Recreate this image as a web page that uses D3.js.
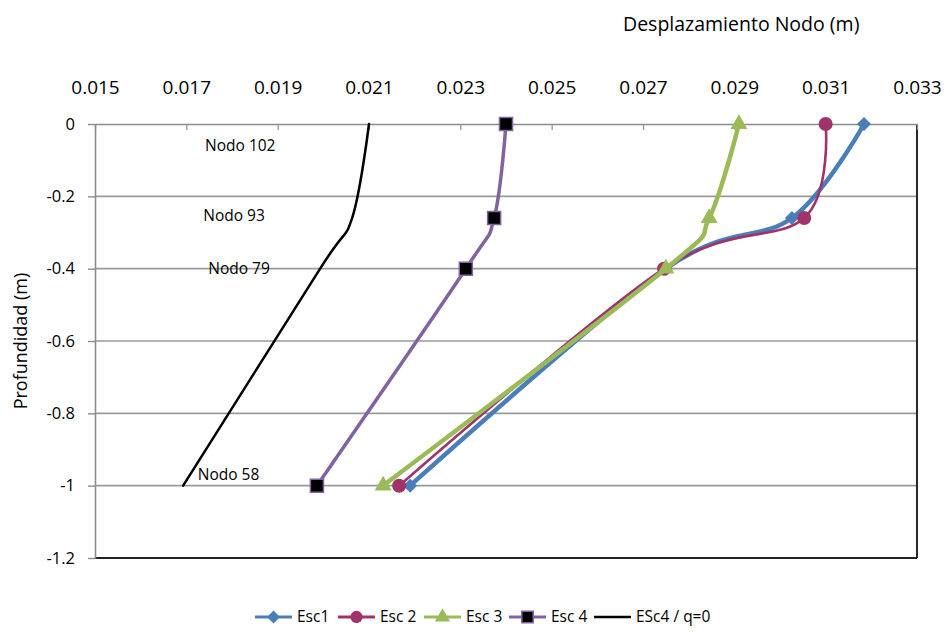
<!DOCTYPE html>
<html>
<head>
<meta charset="utf-8">
<script src="https://cdn.jsdelivr.net/npm/d3@7"></script>
<style>
  html, body { margin: 0; padding: 0; background: #fff; }
  svg { display: block; font-family: "Open Sans", sans-serif; }
</style>
</head>
<body>
<svg id="chart" width="947" height="632"></svg>
<script>
// ---- Data ----
const depths = [0, -0.26, -0.4, -1];
const esc1 = [0.03184, 0.03026, 0.02750, 0.02190];
const esc2 = [0.03100, 0.03053, 0.02746, 0.02166];
const esc3 = [0.02910, 0.02845, 0.02750, 0.02131];
const esc4 = [0.02400, 0.02374, 0.02312, 0.01986];
const esc4q0 = [0.02100, 0.02063, 0.01993, 0.01693];
const seriesNames = ["Esc1", "Esc 2", "Esc 3", "Esc 4", "ESc4 / q=0"];
const xTicks = [0.015, 0.017, 0.019, 0.021, 0.023, 0.025, 0.027, 0.029, 0.031, 0.033];
const yTicks = [0, -0.2, -0.4, -0.6, -0.8, -1, -1.2];
const nodeLabels = ["Nodo 102", "Nodo 93", "Nodo 79", "Nodo 58"];
const nodeLabelX = [0.01741, 0.01737, 0.01748, 0.01725];
const nodeLabelY = [-0.061, -0.252, -0.399, -0.970];
const xTitle = "Desplazamiento Nodo (m)";
const yTitle = "Profundidad (m)";

// ---- Styles ----
const styles = [
  { color: "#4A7EBB", width: 4.5, marker: "diamond" },
  { color: "#A0346A", width: 2.6, marker: "circle" },
  { color: "#9BBB59", width: 4.5, marker: "triangle" },
  { color: "#8064A2", width: 3.5, marker: "square" },
  { color: "#000000", width: 2.5, marker: "none" }
];
const allSeries = [esc1, esc2, esc3, esc4, esc4q0];

const svg = d3.select("#chart");
const x = d3.scaleLinear().domain([0.015, 0.033]).range([95, 917]);
const y = d3.scaleLinear().domain([-1.2, 0]).range([558, 124]);

// gridlines
svg.append("g").selectAll("line")
  .data(yTicks.filter(v => v !== 0 && v !== -1.2))
  .join("line")
  .attr("x1", x(0.015)).attr("x2", x(0.033))
  .attr("y1", d => y(d)).attr("y2", d => y(d))
  .attr("stroke", "#9a9a9a").attr("stroke-width", 1.6);

// plot border right & bottom
svg.append("line").attr("x1", x(0.033)).attr("x2", x(0.033))
  .attr("y1", y(0)).attr("y2", y(-1.2)).attr("stroke", "#111").attr("stroke-width", 1.8);
svg.append("line").attr("x1", x(0.015)).attr("x2", x(0.033))
  .attr("y1", y(-1.2)).attr("y2", y(-1.2)).attr("stroke", "#222").attr("stroke-width", 1.8);

// top axis
const xAxis = d3.axisTop(x).tickValues(xTicks).tickFormat(d3.format(".3f"))
  .tickSizeInner(-6).tickSizeOuter(0).tickPadding(30);
const gx = svg.append("g").attr("transform", `translate(0,${y(0)})`).call(xAxis);
gx.select(".domain").attr("stroke", "#8c8c8c").attr("stroke-width", 1.6);
gx.selectAll(".tick line").attr("stroke", "#8c8c8c").attr("stroke-width", 1.2);
gx.selectAll("text").attr("font-size", 19).attr("fill", "#000").attr("font-family", "Open Sans");

// left axis
const yAxis = d3.axisLeft(y).tickValues(yTicks).tickFormat(d => d === 0 ? "0" : String(+d.toFixed(1)))
  .tickSizeInner(7).tickSizeOuter(0).tickPadding(13);
const gy = svg.append("g").attr("transform", `translate(${x(0.015)},0)`).call(yAxis);
gy.select(".domain").attr("stroke", "#8c8c8c").attr("stroke-width", 1.6);
gy.selectAll(".tick line").attr("stroke", "#8c8c8c").attr("stroke-width", 1.4);
gy.selectAll("text").attr("font-size", 16.5).attr("fill", "#000").attr("font-family", "Open Sans");

// titles
svg.append("text").attr("x", 623).attr("y", 31).attr("font-size", 19.5)
  .attr("fill", "#000").text(xTitle);
svg.append("text").attr("transform", `translate(27,${(y(0)+y(-1.2))/2}) rotate(-90)`)
  .attr("text-anchor", "middle").attr("font-size", 18).attr("fill", "#000").text(yTitle);

// lines
const line = d3.line()
  .x(d => x(d[0])).y(d => y(d[1]))
  .curve(d3.curveCardinal.tension(0));

function markerPath(type, s) {
  if (type === "diamond") return `M0,${-s}L${s},0L0,${s}L${-s},0Z`;
  if (type === "circle") return d3.symbol().type(d3.symbolCircle).size(s)();
  if (type === "triangle") return d3.symbol().type(d3.symbolTriangle).size(s)();
  if (type === "square") return d3.symbol().type(d3.symbolSquare).size(s)();
  return "";
}
const plotSizes = { diamond: 7, circle: 155, triangle: 125, square: 170 };
const legendSizes = { diamond: 6.5, circle: 120, triangle: 100, square: 130 };

function drawMarker(g, type, cx, cy, st, sizes) {
  if (type === "none") return;
  const p = g.append("path").attr("d", markerPath(type, sizes[type]))
    .attr("transform", `translate(${cx},${cy})`);
  if (type === "square") {
    p.attr("fill", "#000").attr("stroke", st.color).attr("stroke-width", 1.5);
  } else {
    p.attr("fill", st.color).attr("stroke", "none");
  }
}

allSeries.forEach((vals, i) => {
  const st = styles[i];
  const pts = vals.map((v, j) => [v, depths[j]]);
  const g = svg.append("g");
  g.append("path").attr("d", line(pts)).attr("fill", "none")
    .attr("stroke", st.color).attr("stroke-width", st.width)
    .attr("stroke-linejoin", "round").attr("stroke-linecap", "round");
  pts.forEach(p => drawMarker(g, st.marker, x(p[0]), y(p[1]), st, plotSizes));
});

// node labels
svg.append("g").selectAll("text").data(nodeLabels).join("text")
  .attr("x", (d, i) => x(nodeLabelX[i]))
  .attr("y", (d, i) => y(nodeLabelY[i]))
  .attr("dy", "0.35em")
  .attr("font-size", 15.5).attr("fill", "#000")
  .text(d => d);

// legend
const legendItemX = [255, 338, 424, 509, 594];
const legend = svg.append("g");
seriesNames.forEach((name, i) => {
  const st = styles[i];
  const lx = legendItemX[i], ly = 617;
  legend.append("line").attr("x1", lx).attr("x2", lx + 37).attr("y1", ly).attr("y2", ly)
    .attr("stroke", st.color).attr("stroke-width", i === 4 ? 2.5 : 3);
  drawMarker(legend, st.marker, lx + 18.5, ly, st, legendSizes);
  legend.append("text").attr("x", lx + 42).attr("y", ly).attr("dy", "0.35em")
    .attr("font-size", 15.5).attr("fill", "#000").text(name);
});
</script>
</body>
</html>
